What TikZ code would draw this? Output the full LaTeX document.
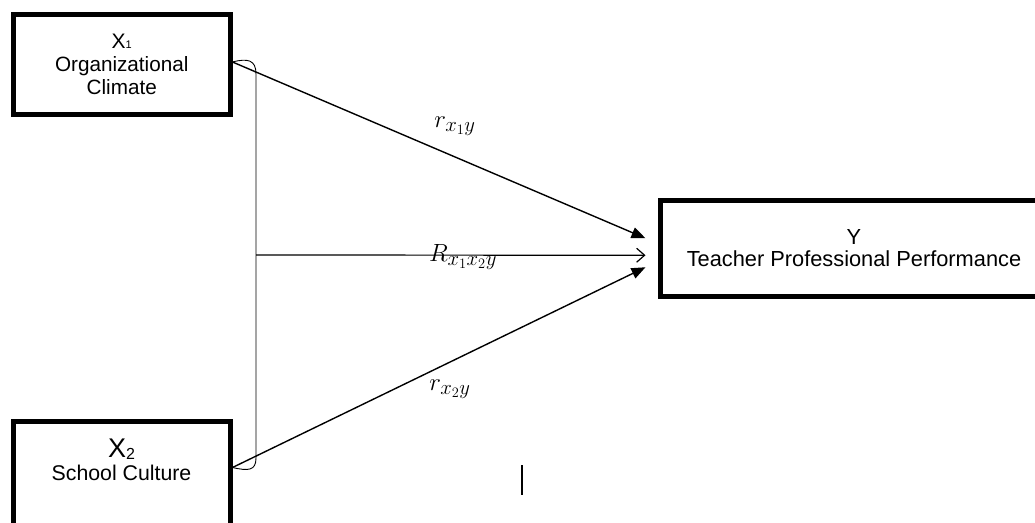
\documentclass[tikz,border=0pt]{standalone}
\usepackage{fontspec}
\setmainfont{Liberation Sans}
\usetikzlibrary{arrows.meta,calc}
\DeclareMathSizes{29}{29}{20.5}{15}
\begin{document}
\begin{tikzpicture}[x=1pt,y=-1pt,
  box/.style={draw,line width=5pt,inner sep=0pt,align=center},
  conn/.style={line width=1.4pt,-{Triangle[length=14pt,width=11pt]}},
  mathlbl/.style={font=\fontsize{29}{32}\selectfont,inner sep=0pt}]
\clip (0,0) rectangle (1035,522);
\path[use as bounding box] (0,0) rectangle (1035,522);
% boxes
\node[box,minimum width=216.5pt,minimum height=100pt,
      font=\fontsize{20.7}{23}\selectfont] (X1) at (121.75,64.5)
  {{\fontsize{21}{23}\selectfont X}{\fontsize{11}{12}\selectfont 1}\\Organizational\\Climate};
\node[box,minimum width=217pt,minimum height=104pt] (X2) at (121.5,473) {};
\node[align=center,inner sep=0pt,font=\fontsize{21.3}{23}\selectfont] (X2t) at (121.5,460)
  {{\fontsize{27}{28}\selectfont X}\raisebox{-2pt}{\fontsize{16}{16}\selectfont 2}\\School Culture};
\node[box,minimum width=388pt,minimum height=96.5pt,
      font=\fontsize{21.8}{22}\selectfont] (Y) at (854,248.25)
  {Y\\Teacher Professional Performance};
% named points
\coordinate (s1) at ($(X1.east)+(0,-2.5)$);
\coordinate (s2) at ($(X2.east)+(0,-5.5)$);
\coordinate (bt) at (256,74);
\coordinate (bb) at (256,458);
\coordinate (br) at (256,255);
\coordinate (t1) at ($(Y.west)+(-12,-10)$);
\coordinate (t2) at ($(Y.west)+(-12,7)$);
\coordinate (t3) at ($(Y.west)+(-12,19)$);
% bracket
\draw[line width=0.9pt] (s1) .. controls (248,58) and (256,60) .. (bt)
  -- (bb) .. controls (256,471) and (248,471) .. (s2);
% connectors
\draw[conn] (s1) -- (t1);
\draw[conn] (s2) -- (t3);
\draw[line width=1.2pt,-{Straight Barb[length=8pt,width=14pt]}] (br) -- (t2);
% labels
\node[mathlbl] (l1) at (455,126) {$r_{x_1y}$};
\node[mathlbl] (l2) at (463,257) {$R_{x_1x_2y}$};
\node[mathlbl] (l3) at (450,389) {$r_{x_2y}$};
% small bar
\draw[line width=2.5pt] (522,465) -- (522,495);
\end{tikzpicture}
\end{document}
